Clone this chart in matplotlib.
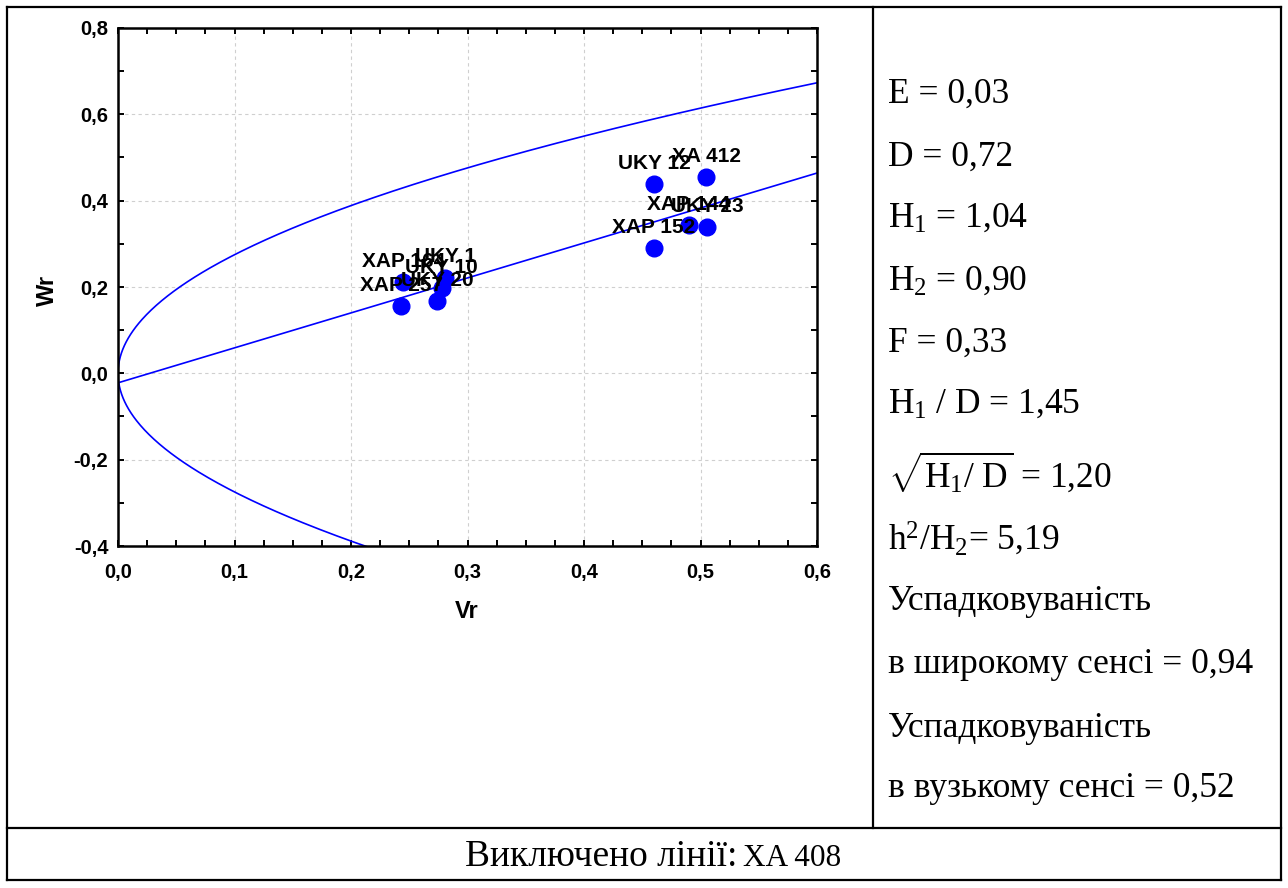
import numpy as np
import matplotlib
matplotlib.use('Agg')
import matplotlib.pyplot as plt
from matplotlib.lines import Line2D
from matplotlib.ticker import MultipleLocator, FuncFormatter

# Wr/Vr graph data
lines = ['XAP 164', 'XAP 257', 'UKY 1', 'UKY 10', 'UKY 20',
         'UKY 12', 'XA 412', 'XAP 144', 'UKY 23', 'XAP 152']
vr = [0.245, 0.243, 0.281, 0.278, 0.274, 0.460, 0.505, 0.490, 0.506, 0.460]
wr = [0.211, 0.155, 0.222, 0.197, 0.167, 0.438, 0.454, 0.343, 0.338, 0.290]

reg_a = -0.022   # intercept of Wr on Vr
reg_b = 0.81     # slope
vp = 0.755       # limiting parabola Wr^2 = Vp * Vr

stats = ['E = 0,03', 'D = 0,72', r'H$_1$ = 1,04', r'H$_2$ = 0,90', 'F = 0,33',
         r'H$_1$ / D = 1,45', r'$\sqrt{H_1/\ D}$ = 1,20', r'h$^2$/H$_2$= 5,19',
         'Успадковуваність', 'в широкому сенсі = 0,94',
         'Успадковуваність', 'в вузькому сенсі = 0,52']
excluded_label = 'Виключено лінії:'
excluded = 'XA 408'

plt.rcParams['mathtext.fontset'] = 'custom'
plt.rcParams['mathtext.rm'] = 'Liberation Serif'
plt.rcParams['mathtext.it'] = 'Liberation Serif:italic'
plt.rcParams['mathtext.default'] = 'regular'

W, H = 1288, 888
fig = plt.figure(figsize=(W / 100, H / 100), dpi=100)

def fx(x):
    return x / W

def fy(y):
    return 1 - y / H

# table frame
for x0, y0, x1, y1 in [(7, 7, 1281, 7), (7, 880, 1281, 880), (7, 7, 7, 880),
                       (1281, 7, 1281, 880), (873, 7, 873, 828), (7, 828, 1281, 828)]:
    fig.add_artist(Line2D([fx(x0), fx(x1)], [fy(y0), fy(y1)], color='black', lw=1.6))

ax = fig.add_axes([fx(118), fy(546), fx(817) - fx(118), fy(28) - fy(546)])

blue = '#0000ff'
t = np.linspace(-0.5, 0.8, 600)
ax.plot(t ** 2 / vp, t, color=blue, lw=1.2)
xs = np.linspace(0, 0.6, 10)
ax.plot(xs, reg_a + reg_b * xs, color=blue, lw=1.2)
ax.plot(vr, wr, 'o', color=blue, ms=12, zorder=3)
for name, x, y in zip(lines, vr, wr):
    ax.annotate(name, (x, y), xytext=(0, 15), textcoords='offset points',
                ha='center', va='center', fontsize=15, fontweight='bold',
                family='Liberation Sans', zorder=4)

ax.set_xlim(0, 0.6)
ax.set_ylim(-0.4, 0.8)
ax.xaxis.set_major_locator(MultipleLocator(0.1))
ax.xaxis.set_minor_locator(MultipleLocator(0.025))
ax.yaxis.set_major_locator(MultipleLocator(0.2))
ax.yaxis.set_minor_locator(MultipleLocator(0.1))
fmt = FuncFormatter(lambda v, p: f'{0 if abs(v) < 1e-9 else v:.1f}'.replace('.', ','))
ax.xaxis.set_major_formatter(fmt)
ax.yaxis.set_major_formatter(fmt)
ax.tick_params(which='both', direction='in', length=4, width=1.4, top=True, right=True)
ax.tick_params(axis='x', pad=12)
ax.tick_params(axis='y', pad=7)
for lab in ax.get_xticklabels() + ax.get_yticklabels():
    lab.set_fontfamily('Liberation Sans')
    lab.set_fontweight('bold')
    lab.set_fontsize(14.5)
for s in ax.spines.values():
    s.set_linewidth(1.8)
ax.grid(True, which='major', ls=(0, (3, 3)), color='#cfcfcf', lw=0.8)
ax.set_axisbelow(True)

fig.text(fx(467), fy(611), 'Vr', ha='center', va='center', fontsize=17,
         fontweight='bold', family='Liberation Sans')
fig.text(fx(47), fy(290), 'Wr', ha='center', va='center', rotation=90, fontsize=17,
         fontweight='bold', family='Liberation Sans')

# right panel
ys = [103, 166, 227, 290, 352, 413, 487, 550, 610, 673, 737, 797]
for s, y in zip(stats, ys):
    fig.text(fx(888), fy(y), s, ha='left', va='baseline', fontsize=25.5,
             family='Liberation Serif')

fig.text(fx(737), fy(866), excluded_label, ha='right', va='baseline', fontsize=27,
         family='Liberation Serif')
fig.text(fx(743), fy(866), excluded, ha='left', va='baseline', fontsize=22.5,
         family='Liberation Serif')

fig.savefig('out.png', dpi=100, facecolor='white')
